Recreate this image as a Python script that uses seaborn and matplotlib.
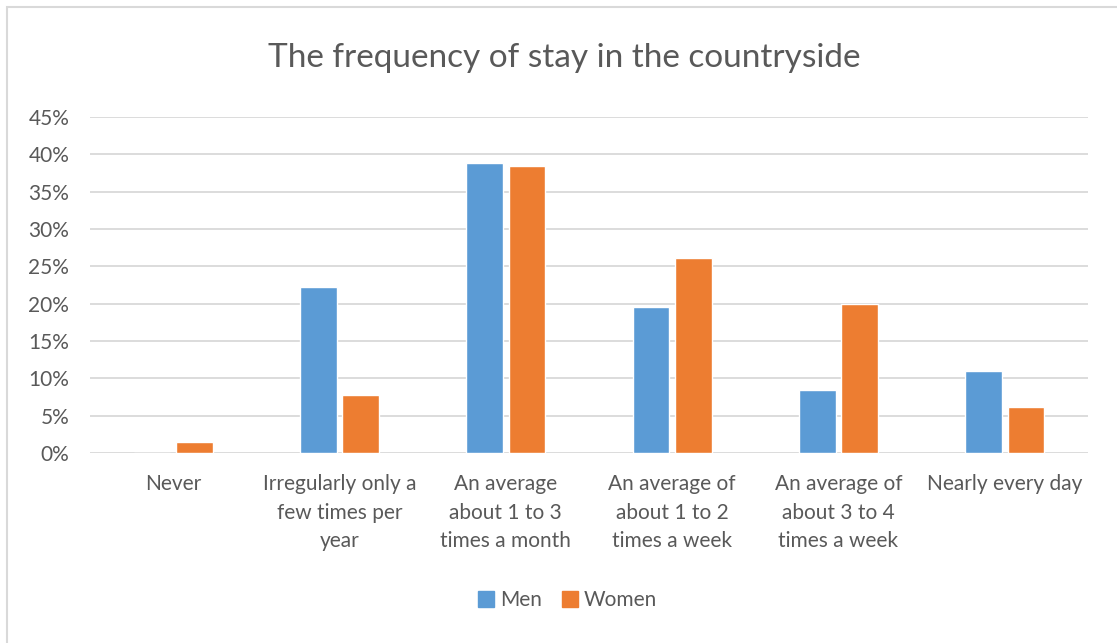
import pandas as pd
import numpy as np
import matplotlib
matplotlib.use("Agg")
import matplotlib.pyplot as plt
import seaborn as sns
from matplotlib.ticker import PercentFormatter, MultipleLocator
from matplotlib.lines import Line2D

# data
categories = [
    "Never",
    "Irregularly only a\nfew times per\nyear",
    "An average\nabout 1 to 3\ntimes a month",
    "An average of\nabout 1 to 2\ntimes a week",
    "An average of\nabout 3 to 4\ntimes a week",
    "Nearly every day",
]
men = [0.0, 0.222, 0.388, 0.195, 0.084, 0.110]
women = [0.015, 0.078, 0.384, 0.261, 0.200, 0.062]
groups = ["Men", "Women"]
colors = ["#5B9BD5", "#ED7D31"]

df = pd.DataFrame({
    "category": categories * 2,
    "group": [groups[0]] * len(men) + [groups[1]] * len(women),
    "value": men + women,
})

sns.set_style("white")
plt.rcParams["font.family"] = ["Lato", "DejaVu Sans"]
text_color = "#595959"
grid_color = "#D9D9D9"

fig = plt.figure(figsize=(11.17, 6.43), dpi=100)
ax = fig.add_axes([90 / 1117, 1 - 453 / 643, (1088 - 90) / 1117, (453 - 117) / 643])

sns.barplot(data=df, x="category", y="value", hue="group", palette=colors,
            width=0.51, gap=0.13, ax=ax, saturation=1, legend=False)

ax.set_ylim(0, 0.45)
ax.set_xlim(-0.5, 5.5)
ax.yaxis.set_major_locator(MultipleLocator(0.05))
ax.yaxis.set_major_formatter(PercentFormatter(1, decimals=0))
ax.grid(axis="y", color=grid_color, linewidth=1.3)
ax.set_axisbelow(True)
for s in ax.spines.values():
    s.set_visible(False)
ax.set_xlabel("")
ax.set_ylabel("")
ax.tick_params(axis="y", length=0, pad=15, labelsize=15, labelcolor=text_color)
ax.tick_params(axis="x", length=0, pad=15, labelsize=15, labelcolor=text_color)
for lbl in ax.get_xticklabels():
    lbl.set_linespacing(1.55)

fig.text(564 / 1117, 1 - 58 / 643, "The frequency of stay in the countryside",
         fontsize=24, color=text_color, ha="center", va="center")

handles = [Line2D([0], [0], marker="s", linestyle="", markersize=11,
                  markerfacecolor=c, markeredgecolor=c) for c in colors]
fig.legend(handles, groups, loc="center", bbox_to_anchor=(568 / 1117, 1 - 600 / 643),
           ncol=2, frameon=False, fontsize=15, labelcolor=text_color,
           handlelength=0.7, handletextpad=0.3, columnspacing=1.0)

# light chart border (left and top visible)
fig.add_artist(plt.Rectangle((7 / 1117, -0.1), 1.2, 1.1 - 7 / 643,
                             transform=fig.transFigure, fill=False,
                             edgecolor=grid_color, linewidth=1.5))

fig.savefig("out.png", dpi=100, facecolor="white")
